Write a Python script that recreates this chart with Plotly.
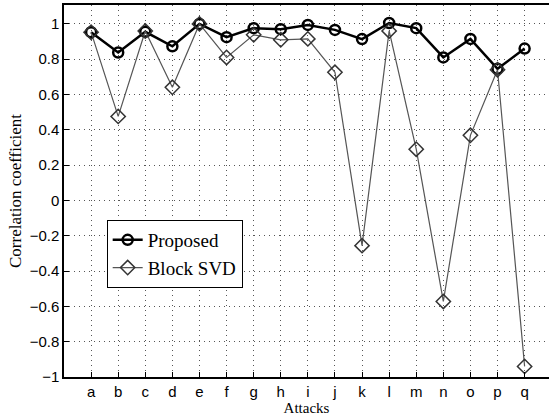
import plotly.graph_objects as go

attacks = list("abcdefghijklmnopq")
proposed = [0.953, 0.838, 0.955, 0.873, 1.0, 0.925, 0.976, 0.97, 0.994, 0.966, 0.914, 1.005, 0.976, 0.81, 0.915, 0.746, 0.86]
block_svd = [0.953, 0.476, 0.96, 0.641, 1.0, 0.81, 0.938, 0.91, 0.915, 0.726, -0.256, 0.96, 0.29, -0.572, 0.369, 0.74, -0.94]
y_ticks = [-1, -0.8, -0.6, -0.4, -0.2, 0, 0.2, 0.4, 0.6, 0.8, 1]
y_tick_text = ["\u22121", "\u22120.8", "\u22120.6", "\u22120.4", "\u22120.2", "0", "0.2", "0.4", "0.6", "0.8", "1"]

xpos = list(range(1, len(attacks) + 1))

fig = go.Figure()
fig.add_trace(go.Scatter(
    x=xpos, y=proposed, name="Proposed", mode="lines+markers",
    line=dict(color="black", width=2.5),
    marker=dict(symbol="circle-open", size=10, color="black", line=dict(width=2.5)),
))
fig.add_trace(go.Scatter(
    x=xpos, y=block_svd, name="Block SVD", mode="lines+markers",
    line=dict(color="#555555", width=1.2),
    marker=dict(symbol="diamond-open", size=11, color="#333333", line=dict(width=1.5)),
))

fig.update_layout(
    width=549, height=416,
    margin=dict(l=64, r=0, t=5, b=37),
    paper_bgcolor="white", plot_bgcolor="white",
    font=dict(family="Liberation Sans, Arial", size=14, color="black"),
    legend=dict(
        x=0.088, y=0.422, xanchor="left", yanchor="top",
        bgcolor="white", bordercolor="black", borderwidth=1,
        font=dict(family="Liberation Serif, Times New Roman", size=19),
        tracegroupgap=0, itemwidth=30,
    ),
    showlegend=True,
)
grid_dash = "1px,4px"
fig.update_xaxes(
    range=[0, 17.9], tickmode="array", tickvals=xpos, ticktext=attacks,
    ticks="inside", ticklen=5, tickcolor="black",
    showline=True, linecolor="black", linewidth=1.5, mirror=True,
    showgrid=True, gridcolor="#555555", griddash=grid_dash, gridwidth=1,
    zeroline=False,
    tickfont=dict(family="Liberation Sans, Arial", size=15),
    title=dict(text="Attacks", font=dict(family="Liberation Serif, Times New Roman", size=15), standoff=6),
)
fig.update_yaxes(
    range=[-1, 1.107], tickmode="array", tickvals=y_ticks, ticktext=y_tick_text,
    ticks="inside", ticklen=5, tickcolor="black",
    showline=True, linecolor="black", linewidth=1.5, mirror=False,
    showgrid=True, gridcolor="#555555", griddash=grid_dash, gridwidth=1,
    zeroline=False,
    tickfont=dict(family="Liberation Sans, Arial", size=15),
    title=dict(text="Correlation coefficient", font=dict(family="Liberation Serif, Times New Roman", size=17), standoff=4),
)

fig.write_html("out.html")
